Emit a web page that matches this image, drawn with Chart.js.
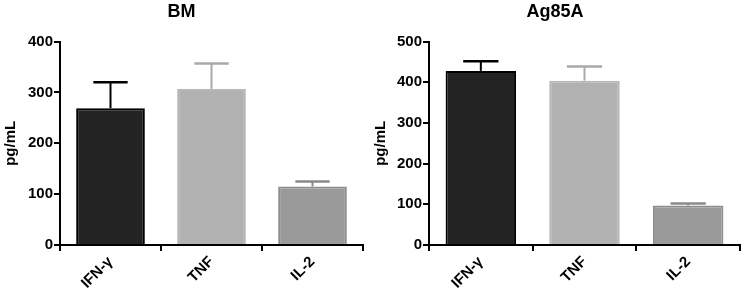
<!DOCTYPE html>
<html>
<head>
<meta charset="utf-8">
<script src="https://cdn.jsdelivr.net/npm/chart.js@4.4.0/dist/chart.umd.min.js"></script>
<style>
  html, body { margin: 0; padding: 0; background: #fff; }
  #wrap { position: relative; width: 743px; height: 295px; }
  .box { position: absolute; top: 0; height: 295px; }
  #b1 { left: 0; width: 370px; }
  #b2 { left: 370px; width: 373px; }
</style>
</head>
<body>
<div id="wrap">
  <div class="box" id="b1"><canvas id="c1"></canvas></div>
  <div class="box" id="b2"><canvas id="c2"></canvas></div>
</div>
<script>
const categories = ["IFN-γ", "TNF", "IL-2"];
const bmTitle = "BM";
const bmMeans = [269, 307, 115];
const bmErrTop = [320, 357, 125];
const bmTicks = [0, 100, 200, 300, 400];
const agTitle = "Ag85A";
const agMeans = [428, 404, 97];
const agErrTop = [452, 439, 102];
const agTicks = [0, 100, 200, 300, 400, 500];
const yTitle = "pg/mL";

const fills = ["#232323", "#b1b1b1", "#9a9a9a"];
const borders = ["#000000", "#b7b7b7", "#8e8e8e"];
const errColors = ["#000000", "#a9a9a9", "#8a8a8a"];

const FONT = "'Liberation Sans', Arial, sans-serif";

const errorBarPlugin = {
  id: "errorBars",
  afterDatasetsDraw(chart, args, opts) {
    const ctx = chart.ctx;
    const meta = chart.getDatasetMeta(0);
    const y = chart.scales.y;
    const tops = opts.tops;
    ctx.save();
    meta.data.forEach((bar, i) => {
      const xc = bar.x;
      const yMean = y.getPixelForValue(chart.data.datasets[0].data[i]);
      const yTop = y.getPixelForValue(tops[i]);
      const half = bar.width / 4;
      ctx.strokeStyle = errColors[i];
      ctx.lineWidth = 2;
      ctx.beginPath();
      ctx.moveTo(xc, yMean);
      ctx.lineTo(xc, yTop);
      ctx.stroke();
      ctx.lineWidth = 2.5;
      ctx.beginPath();
      ctx.moveTo(xc - half, yTop);
      ctx.lineTo(xc + half, yTop);
      ctx.stroke();
    });
    ctx.restore();
  }
};

function makeChart(id, title, means, tops, ticks, yWidth, padRight) {
  const maxV = ticks[ticks.length - 1];
  return new Chart(document.getElementById(id), {
    type: "bar",
    data: {
      labels: categories,
      datasets: [{
        data: means,
        backgroundColor: fills,
        borderColor: borders,
        borderWidth: 2,
        categoryPercentage: 0.68,
        barPercentage: 1.0
      }]
    },
    options: {
      responsive: true,
      maintainAspectRatio: false,
      animation: false,
      layout: { padding: { left: 0, right: padRight, top: 0, bottom: 0 } },
      plugins: {
        legend: { display: false },
        tooltip: { enabled: false },
        title: {
          display: true,
          text: title,
          color: "#000",
          font: { family: FONT, size: 18, weight: "bold" },
          padding: { top: 1, bottom: 19 }
        },
        errorBars: { tops: tops }
      },
      scales: {
        x: {
          grid: { display: true, drawOnChartArea: false, drawTicks: true, tickLength: 6, color: "#000", lineWidth: 2 },
          border: { display: true, color: "#000", width: 2 },
          ticks: {
            color: "#000",
            font: { family: FONT, size: 15, weight: "bold" },
            minRotation: 45, maxRotation: 45,
            padding: 2
          },
          afterFit(scale) { scale.height = 50; }
        },
        y: {
          min: 0, max: maxV,
          afterBuildTicks(scale) { scale.ticks = ticks.map(v => ({ value: v })); },
          grid: { display: true, drawOnChartArea: false, drawTicks: true, tickLength: 6, color: "#000", lineWidth: 2 },
          border: { display: true, color: "#000", width: 2 },
          ticks: {
            color: "#000",
            font: { family: FONT, size: 15, weight: "bold" },
            padding: 1
          },
          title: {
            display: true,
            text: yTitle,
            color: "#000",
            font: { family: FONT, size: 15, weight: "bold" },
            padding: { top: 2, bottom: 2 }
          },
          afterFit(scale) { scale.width = yWidth; }
        }
      }
    },
    plugins: [errorBarPlugin]
  });
}

makeChart("c1", bmTitle, bmMeans, bmErrTop, bmTicks, 60, 7);
makeChart("c2", agTitle, agMeans, agErrTop, agTicks, 59, 3);
</script>
</body>
</html>
